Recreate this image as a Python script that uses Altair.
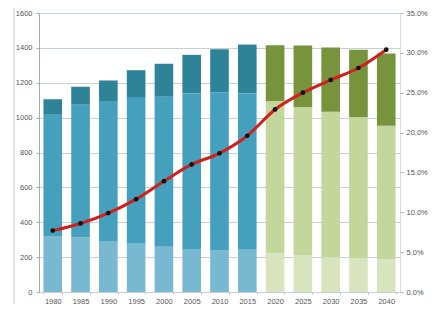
import altair as alt
import pandas as pd

years = [1980, 1985, 1990, 1995, 2000, 2005, 2010, 2015, 2020, 2025, 2030, 2035, 2040]
bottom = [318, 314, 293, 276, 259, 247, 240, 242, 223, 211, 200, 194, 189]
middle = [699, 760, 798, 842, 861, 892, 906, 897, 872, 850, 834, 808, 765]
top = [88, 103, 122, 154, 189, 221, 246, 280, 320, 352, 368, 387, 414]
share = [0.077, 0.086, 0.099, 0.1165, 0.139, 0.160, 0.174, 0.196, 0.229, 0.250, 0.266, 0.281, 0.304]
projected_from = 2020

rows = []
for i, yr in enumerate(years):
    g = "g" if yr >= projected_from else "b"
    for k, (seg, v) in enumerate([("1", bottom[i]), ("2", middle[i]), ("3", top[i])]):
        rows.append({"year": str(yr), "seg": g + seg, "order": k, "value": v})
bars_df = pd.DataFrame(rows)
line_df = pd.DataFrame({"year": [str(y) for y in years], "share": share})

cat_domain = ["b1", "b2", "b3", "g1", "g2", "g3"]
cat_colors = ["#78b8d0", "#45a0bd", "#2e8399", "#d8e4bd", "#c3d69b", "#77933c"]

xscale = alt.Scale(paddingInner=0.33, paddingOuter=0.16)
xenc = alt.X("year:N", sort=None, title=None, scale=xscale,
             axis=alt.Axis(labelAngle=0, labelFontSize=7.5, labelColor="#555555",
                           domain=False, ticks=True, tickColor="#bbbbbb", tickSize=2,
                           tickBand="extent", labelPadding=3))

bars = alt.Chart(bars_df).mark_bar().encode(
    x=xenc,
    y=alt.Y("value:Q", stack="zero", title=None,
            scale=alt.Scale(domain=[0, 1600], nice=False),
            axis=alt.Axis(values=list(range(0, 1601, 200)), format="d", labelFontSize=7.5,
                          labelColor="#555555", domain=True, domainColor="#aaaaaa",
                          ticks=True, tickSize=3, tickColor="#aaaaaa",
                          gridColor="#c5cfd6", labelPadding=4)),
    color=alt.Color("seg:N", scale=alt.Scale(domain=cat_domain, range=cat_colors), legend=None),
    order=alt.Order("order:Q"),
)

right_axis = alt.Axis(orient="right", format=".1%",
                      values=[0, 0.05, 0.1, 0.15, 0.2, 0.25, 0.3, 0.35],
                      labelFontSize=7.5, labelColor="#555555", grid=False, labelOverlap=False,
                      domain=False, ticks=True, tickSize=3, tickColor="#aaaaaa", labelPadding=3)
yshare = alt.Y("share:Q", title=None, scale=alt.Scale(domain=[0, 0.35], nice=False), axis=right_axis)

line = alt.Chart(line_df).mark_line(color="#d0201c", strokeWidth=3, interpolate="monotone").encode(
    x=alt.X("year:N", sort=None), y=yshare,
)
pts = alt.Chart(line_df).mark_circle(color="#111111", size=22, opacity=1).encode(
    x=alt.X("year:N", sort=None), y=yshare,
)

frame = alt.Chart(pd.DataFrame({"a": [0]})).mark_rule(color="#c8c8c8", strokeWidth=1).encode(
    x=alt.value(-25), y=alt.value(-9), y2=alt.value(298)
)

chart = alt.layer(bars, line + pts, frame).resolve_scale(y="independent").properties(
    width=361, height=279,
    autosize=alt.AutoSizeParams(type="none"),
    padding={"left": 31, "top": 5, "right": 29, "bottom": 12},
).configure_view(fill="#e9eff3", stroke=None).configure_axis(
    labelFont="DejaVu Sans Condensed"
).configure(background="white")

chart.save("out.html", embed_options={"renderer": "svg", "actions": False})
